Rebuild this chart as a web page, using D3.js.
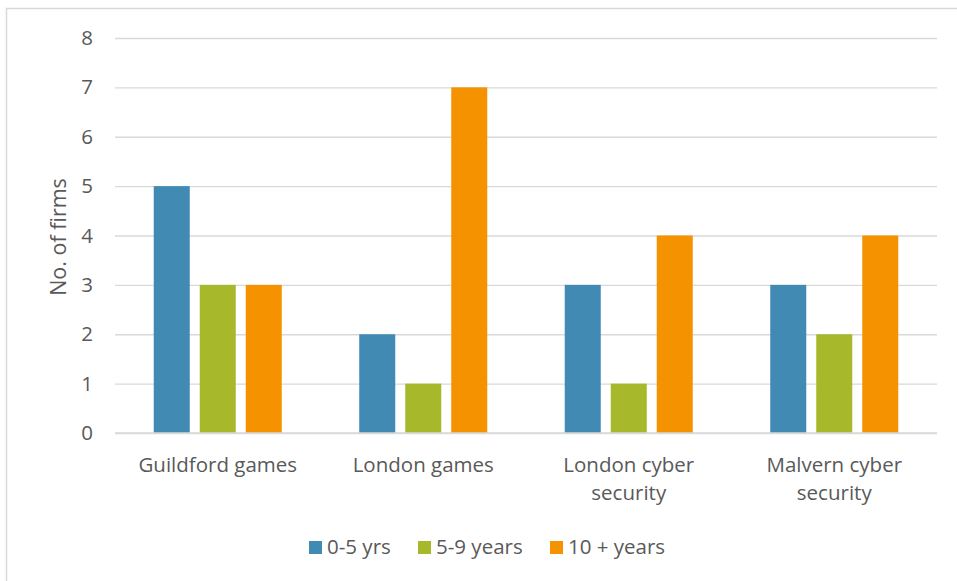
<!DOCTYPE html>
<html>
<head>
<meta charset="utf-8">
<script src="https://cdn.jsdelivr.net/npm/d3@7"></script>
<style>
  html, body { margin: 0; padding: 0; background: #fff; }
  svg { display: block; }
  text { font-family: "Open Sans", Lato, sans-serif; fill: #595959; }
</style>
</head>
<body>
<script>
// Firm counts by cluster and firm age
const categories = [["Guildford games"], ["London games"], ["London cyber", "security"], ["Malvern cyber", "security"]];
const seriesNames = ["0-5 yrs", "5-9 years", "10 + years"];
const young = [5, 2, 3, 3];
const mid = [3, 1, 1, 2];
const old = [3, 7, 4, 4];
const yTicks = [0, 1, 2, 3, 4, 5, 6, 7, 8];
const colors = ["#408ab4", "#a7b92b", "#f59200"];

const W = 957, H = 581;
const plot = { left: 115, right: 937, top: 38, bottom: 433 };
const FONT = 20.5;

const svg = d3.select("body").append("svg").attr("width", W).attr("height", H);

// chart frame
svg.append("rect").attr("x", 6.5).attr("y", 8.5).attr("width", W).attr("height", H)
  .attr("fill", "none").attr("stroke", "#d9d9d9").attr("stroke-width", 1.5);

const x0 = d3.scaleBand().domain(d3.range(categories.length))
  .range([plot.left, plot.right]).paddingInner(0).paddingOuter(0);
const x1 = d3.scaleBand().domain(d3.range(seriesNames.length))
  .range([0, x0.bandwidth()]).paddingInner(0.217).paddingOuter(0.842);
const y = d3.scaleLinear().domain([0, 8]).range([plot.bottom, plot.top]);

// gridlines and y tick labels
const yAxis = d3.axisLeft(y).tickValues(yTicks).tickSize(-(plot.right - plot.left)).tickPadding(22);
const gy = svg.append("g").attr("transform", `translate(${plot.left},0)`).call(yAxis);
gy.select(".domain").remove();
gy.selectAll(".tick line").attr("stroke", "#d9d9d9").attr("stroke-width", 1.3);
gy.selectAll(".tick text").attr("font-size", FONT).attr("fill", "#595959")
  .style("font-family", "'Open Sans', Lato, sans-serif");

const series = [young, mid, old];
series.forEach((vals, si) => {
  svg.append("g").selectAll("rect").data(vals).join("rect")
    .attr("x", (d, i) => x0(i) + x1(si))
    .attr("y", d => y(d))
    .attr("width", x1.bandwidth())
    .attr("height", d => y(0) - y(d))
    .attr("fill", colors[si]);
});

// baseline redrawn over the bars
svg.append("line").attr("x1", plot.left).attr("x2", plot.right)
  .attr("y1", y(0)).attr("y2", y(0)).attr("stroke", "#d9d9d9").attr("stroke-width", 1.3);

// category labels
categories.forEach((lines, i) => {
  const cx = x0(i) + x0.bandwidth() / 2;
  const t = svg.append("text").attr("text-anchor", "middle").attr("font-size", FONT)
    .attr("x", cx).attr("y", 472);
  lines.forEach((ln, k) => t.append("tspan").attr("x", cx)
    .attr("dy", k === 0 ? 0 : 28).text(ln));
});

// y axis title
svg.append("text").attr("text-anchor", "middle").attr("font-size", 21.5)
  .attr("transform", `translate(66,237) rotate(-90)`).text("No. of firms");

// legend
const legendItems = [
  { x: 309, tx: 327 },
  { x: 418, tx: 436 },
  { x: 550, tx: 568 }
];
seriesNames.forEach((name, i) => {
  svg.append("rect").attr("x", legendItems[i].x).attr("y", 541).attr("width", 13).attr("height", 13)
    .attr("fill", colors[i]);
  svg.append("text").attr("x", legendItems[i].tx).attr("y", 554).attr("font-size", FONT).text(name);
});
</script>
</body>
</html>
